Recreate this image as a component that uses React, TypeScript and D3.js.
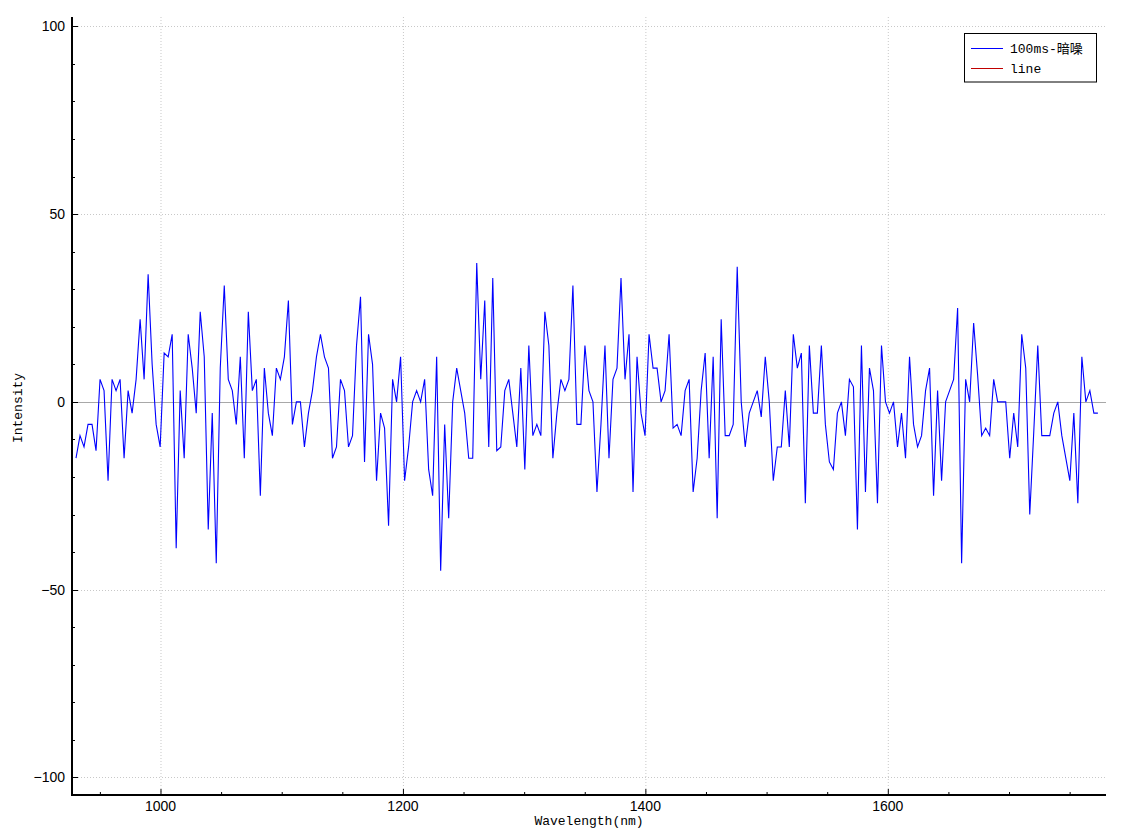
import React from "react";
import * as d3 from "d3";

const WL_START = 930.3;
const WL_END = 1773.3;

const intensity: number[] = [
  -15, -9, -12, -6, -6, -13, 6, 3, -21, 6, 3, 6, -15, 3, -3, 6, 22, 6, 34, 10, -6, -12, 13, 12, 18, -39, 3, -15, 18, 9, -3,
  24, 12, -34, -3, -43, 9, 31, 6, 3, -6, 12, -15, 24, 3, 6, -25, 9, -3, -9, 9, 6, 12, 27, -6, 0, 0, -12, -3, 3, 12, 18, 12,
  9, -15, -12, 6, 3, -12, -9, 15, 28, -16, 18, 10, -21, -3, -7, -33, 6, 0, 12, -21, -12, 0, 3, 0, 6, -18, -25, 12, -45, -6, -31,
  0, 9, 3, -3, -15, -15, 37, 6, 27, -12, 33, -13, -12, 3, 6, -3, -12, 9, -18, 15, -9, -6, -9, 24, 15, -15, -3, 6, 3, 6, 31,
  -6, -6, 15, 3, 0, -24, -6, 15, -15, 6, 9, 33, 6, 18, -24, 12, -3, -9, 18, 9, 9, 0, 3, 18, -7, -6, -9, 3, 6, -24,
  -15, 3, 13, -15, 12, -31, 22, -9, -9, -6, 36, 0, -12, -3, 0, 3, -4, 12, 0, -21, -12, -12, 3, -12, 18, 9, 13, -27, 15, -3, -3, 15,
  -6, -16, -18, -3, 0, -9, 6, 4, -34, 15, -24, 9, 3, -27, 15, 0, -3, 0, -12, -3, -15, 12, -6, -12, -9, 3, 9, -25, 3, -21, 0,
  3, 6, 25, -43, 6, 0, 21, 7, -9, -7, -9, 6, 0, 0, 0, -15, -3, -12, 18, 9, -30, -8, 15, -9, -9, -9, -3, 0, -9, -15, -21, -3, -27, 12, 0, 3, -3, -3,
];

const wavelengths: number[] = intensity.map(
  (_, i) => WL_START + ((WL_END - WL_START) * i) / (intensity.length - 1)
);

const xMajorTicks = [1000, 1200, 1400, 1600];
const xMinorTicks = [950, 1050, 1100, 1150, 1250, 1300, 1350, 1450, 1500, 1550, 1650, 1700, 1750];
const yMajorTicks = [100, 50, 0, -50, -100];
const seriesNames = ["100ms-暗噪", "line"];
const seriesColors = ["#0000ff", "#c00000"];

const W = 1124;
const H = 830;
const L = 72, R = 1106, T = 17, B = 795;

export default function App() {
  const x = d3.scaleLinear().domain([927, 1780]).range([L, R]);
  const y = d3.scaleLinear().domain([-104.7, 102.5]).range([B, T]);
  const yMinor = d3.range(-100, 101, 10).filter((v) => v % 50 !== 0);

  const line = d3
    .line<number>()
    .x((_, i) => x(wavelengths[i]))
    .y((d) => y(d));

  const tickFont = "'Liberation Sans', Arial, sans-serif";
  const monoFont = "'Liberation Mono', 'Noto Sans CJK SC', monospace";

  return (
    <div style={{ position: "absolute", left: 0, top: 0 }}>
      <svg width={W} height={H} style={{ display: "block", background: "#fff" }}>
        <defs>
          <clipPath id="plot">
            <rect x={L} y={T} width={R - L} height={B - T} />
          </clipPath>
        </defs>
        {/* grid */}
        {xMajorTicks.map((t) => (
          <line key={"gx" + t} x1={x(t) + 0.5} x2={x(t) + 0.5} y1={T} y2={B} stroke="#c8c8c8" strokeDasharray="1,2" />
        ))}
        {yMajorTicks.map((t) => (
          <line key={"gy" + t} x1={L} x2={R} y1={Math.round(y(t)) + 0.5} y2={Math.round(y(t)) + 0.5} stroke="#c8c8c8" strokeDasharray="1,2" />
        ))}
        {/* zero line */}
        <line x1={L} x2={R} y1={Math.round(y(0)) + 0.5} y2={Math.round(y(0)) + 0.5} stroke="#a8a8a8" strokeWidth={1} />
        {/* data */}
        <path d={line(intensity) || ""} fill="none" stroke={seriesColors[0]} strokeWidth={1.1} clipPath="url(#plot)" />
        {/* axes */}
        <line x1={L} x2={L} y1={T} y2={B + 1} stroke="#000" strokeWidth={2} />
        <line x1={L - 1} x2={R} y1={B} y2={B} stroke="#000" strokeWidth={2} />
        {yMajorTicks.map((t) => (
          <g key={"yt" + t}>
            <line x1={L} x2={L + 6} y1={Math.round(y(t)) + 0.5} y2={Math.round(y(t)) + 0.5} stroke="#000" />
            <text x={65} y={y(t) + 5} textAnchor="end" fontFamily={tickFont} fontSize={14} fill="#000">
              {t < 0 ? "\u2212" + Math.abs(t) : String(t)}
            </text>
          </g>
        ))}
        {yMinor.map((t) => (
          <line key={"ym" + t} x1={L} x2={L + 3} y1={Math.round(y(t)) + 0.5} y2={Math.round(y(t)) + 0.5} stroke="#000" />
        ))}
        {xMajorTicks.map((t) => (
          <g key={"xt" + t}>
            <line x1={x(t) + 0.5} x2={x(t) + 0.5} y1={B} y2={B - 6} stroke="#000" />
            <text x={x(t)} y={811} textAnchor="middle" fontFamily={tickFont} fontSize={14} fill="#000">
              {t}
            </text>
          </g>
        ))}
        {xMinorTicks.map((t) => (
          <line key={"xm" + t} x1={x(t) + 0.5} x2={x(t) + 0.5} y1={B} y2={B - 3} stroke="#000" />
        ))}
        {/* axis titles */}
        <text x={(L + R) / 2} y={825} textAnchor="middle" fontFamily={monoFont} fontSize={13} fill="#000">
          Wavelength(nm)
        </text>
        <text
          transform={`translate(22, ${408}) rotate(-90)`}
          textAnchor="middle"
          fontFamily={monoFont}
          fontSize={13}
          fill="#000"
        >
          Intensity
        </text>
        {/* legend */}
        <rect x={964.5} y={33.5} width={132} height={48.5} fill="#fff" stroke="#000" strokeWidth={1} />
        {seriesNames.map((n, i) => (
          <g key={n}>
            <line x1={971} x2={1003} y1={48.5 + i * 20} y2={48.5 + i * 20} stroke={seriesColors[i]} strokeWidth={1} />
            <text x={1010} y={53 + i * 20} fontFamily={monoFont} fontSize={13} fill="#000">
              {n}
            </text>
          </g>
        ))}
      </svg>
    </div>
  );
}
